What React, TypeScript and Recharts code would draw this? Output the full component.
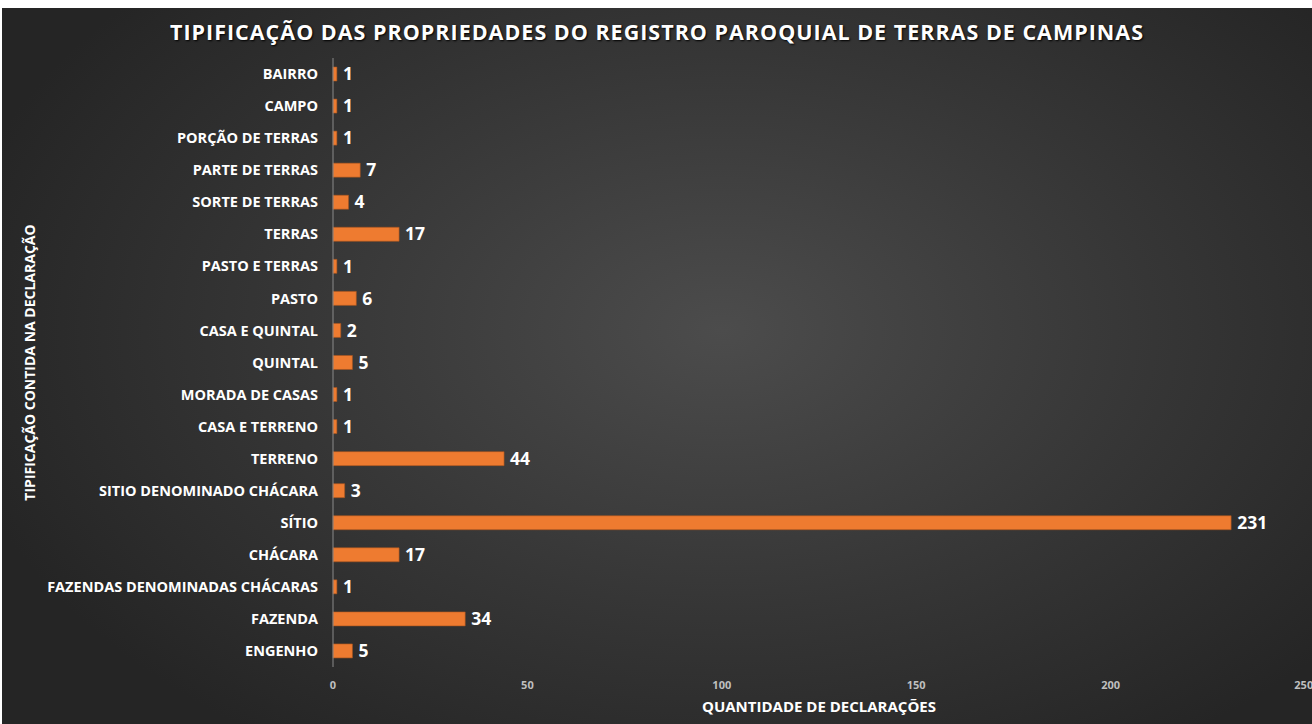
import { BarChart, Bar, XAxis, YAxis, LabelList } from "recharts";

const categories = [
  "BAIRRO",
  "CAMPO",
  "PORÇÃO DE TERRAS",
  "PARTE DE TERRAS",
  "SORTE DE TERRAS",
  "TERRAS",
  "PASTO E TERRAS",
  "PASTO",
  "CASA E QUINTAL",
  "QUINTAL",
  "MORADA DE CASAS",
  "CASA E TERRENO",
  "TERRENO",
  "SITIO DENOMINADO CHÁCARA",
  "SÍTIO",
  "CHÁCARA",
  "FAZENDAS DENOMINADAS CHÁCARAS",
  "FAZENDA",
  "ENGENHO",
];
const declaracoes = [1, 1, 1, 7, 4, 17, 1, 6, 2, 5, 1, 1, 44, 3, 231, 17, 1, 34, 5];
const xTicks = [0, 50, 100, 150, 200, 250];

const data = categories.map((name, i) => ({ name, value: declaracoes[i] }));

const font = "'Open Sans', 'Noto Sans', sans-serif";

export default function App() {
  return (
    <div
      style={{
        position: "absolute",
        left: 2,
        top: 8,
        width: 1310,
        height: 716,
        background:
          "radial-gradient(ellipse 60% 70% at 55% 45%, #4c4c4c 0%, #363636 55%, #252525 100%)",
        fontFamily: font,
      }}
    >
      <div
        style={{
          position: "absolute",
          top: 9,
          left: 0,
          width: 1310,
          textAlign: "center",
          color: "#ffffff",
          fontWeight: 700,
          fontSize: 21.5,
          letterSpacing: 1,
          textShadow: "1px 1px 2px #000",
        }}
      >
        TIPIFICAÇÃO DAS PROPRIEDADES DO REGISTRO PAROQUIAL DE TERRAS DE CAMPINAS
      </div>
      <BarChart
        width={1310}
        height={716}
        data={data}
        layout="vertical"
        margin={{ top: 50, right: 7, left: 0, bottom: 7 }}
        style={{ position: "absolute", left: 0, top: 0 }}
      >
        <XAxis
          type="number"
          domain={[0, 250]}
          ticks={xTicks}
          axisLine={false}
          tickLine={false}
          tickSize={0}
          tickMargin={14}
          height={50}
          tick={{ fill: "#bfbfbf", fontSize: 11, fontWeight: 700, fontFamily: font }}
          label={{
            value: "QUANTIDADE DE DECLARAÇÕES",
            position: "insideBottom",
            offset: 5,
            fill: "#ffffff",
            fontSize: 15,
            fontWeight: 700,
            fontFamily: font,
          }}
        />
        <YAxis
          type="category"
          dataKey="name"
          width={331}
          axisLine={{ stroke: "#8a8a8a" }}
          tickLine={false}
          tickSize={0}
          tickMargin={15}
          interval={0}
          tick={{ fill: "#ffffff", fontSize: 14.5, fontWeight: 700, fontFamily: font }}
          label={{
            value: "TIPIFICAÇÃO CONTIDA NA DECLARAÇÃO",
            angle: -90,
            position: "insideLeft",
            offset: 28,
            fill: "#ffffff",
            fontSize: 14,
            fontWeight: 700,
            fontFamily: font,
            style: { textAnchor: "middle" },
          }}
        />
        <Bar
          dataKey="value"
          fill="#ee7b30"
          stroke="#a8541f"
          strokeWidth={0.6}
          barSize={14}
          isAnimationActive={false}
        >
          <LabelList
            dataKey="value"
            position="right"
            offset={6}
            fill="#ffffff"
            fontSize={17.5}
            fontWeight={700}
            fontFamily={font}
          />
        </Bar>
      </BarChart>
    </div>
  );
}
